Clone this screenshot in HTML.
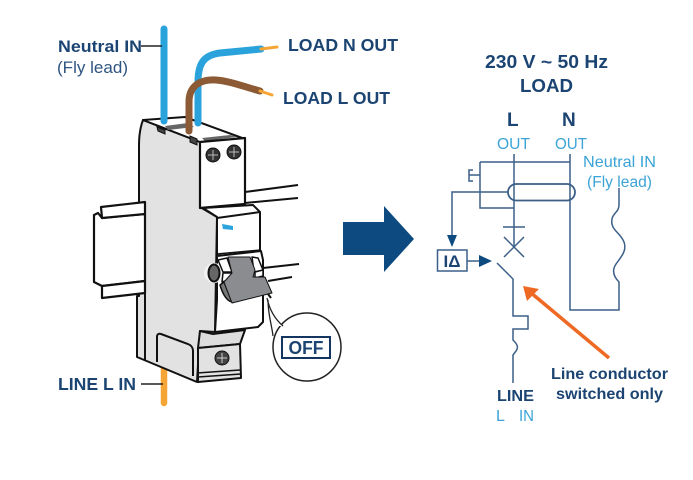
<!DOCTYPE html>
<html><head><meta charset="utf-8"><style>
html,body{margin:0;padding:0;background:#fff}
svg{display:block}
text{font-family:"Liberation Sans",sans-serif}
.b{font-weight:bold;fill:#1b4472}
.r{fill:#2f5480}
.c{fill:#3ba3d6}
</style></head><body>
<svg width="693" height="480" viewBox="0 0 693 480" xmlns="http://www.w3.org/2000/svg">
<rect width="693" height="480" fill="#fff"/>
<!-- rail right -->
<g fill="none" stroke="#111" stroke-width="2">
<path d="M245 192L298 185M245 203L298 198M263 268L299 264M268 281L292 277"/>
</g>
<!-- lower wire -->
<path d="M164 366V403" stroke="#f5a535" stroke-width="6.500" stroke-linecap="round"/>
<!-- body side -->
<path d="M143 120C140 128 139 135 139 145V296H137V357L197 382L200 331L215 332L217 217L200 207V142Z" fill="#e1e2e1" stroke="#111" stroke-width="2" stroke-linejoin="round"/>
<path d="M145 290V360" stroke="#111" stroke-width="2" fill="none"/>
<!-- rail left, in front of body -->
<path d="M94 215L98 213L102 218L145 214V281L102 286L94 282Z" fill="#fff" stroke="#111" stroke-width="2.200" stroke-linejoin="round"/>
<path d="M101 207L145 202V214L102 218Z" fill="#fff" stroke="#111" stroke-width="2.200" stroke-linejoin="round"/>
<path d="M102 286L145 281V293L102 298Z" fill="#fff" stroke="#111" stroke-width="2.200" stroke-linejoin="round"/>
<!-- top face -->
<path d="M143 120L185 117L245 139L200 142Z" fill="#fff" stroke="#111" stroke-width="2" stroke-linejoin="round"/>
<path d="M165 126L188 123L194 127L168 130Z" fill="#666"/>
<path d="M202 138L230 135L237 137L205 141Z" fill="#666"/>
<path d="M157 127L165 130V134L158 131Z" fill="#444" stroke="#111"/>
<path d="M190 136L197 139V145L190 142Z" fill="#444" stroke="#111"/>
<!-- front top -->
<path d="M200 142L245 138V204L200 208Z" fill="#fff" stroke="#111" stroke-width="2.200" stroke-linejoin="round"/>
<g fill="#333" stroke="#111">
<circle cx="213" cy="155" r="7"/><circle cx="234" cy="152" r="7"/>
</g>
<path d="M208 155H218M213 150V160M229 152H239M234 147V157" stroke="#bbb" stroke-width="1"/>
<!-- mid front -->
<path d="M203 208L253 205L260 212V252L217 256V217Z" fill="#fff" stroke="#111" stroke-width="2" stroke-linejoin="round"/>
<path d="M217 218L260 212" stroke="#111" stroke-width="2"/>
<path d="M222 224L233 226V230L223 229Z" fill="#2aa3dc"/>
<!-- lower front -->
<path d="M217 256L261 251L263 260V322L258 327L215 332L217 300Z" fill="#fff" stroke="#111" stroke-width="2" stroke-linejoin="round"/>
<path d="M217 254L261 250" stroke="#111" stroke-width="1.500"/>
<!-- bottom block -->
<path d="M200 331L213 334L245 330L240 344L198 348Z" fill="#dcdddc" stroke="#111" stroke-width="2" stroke-linejoin="round"/>
<path d="M198 348L240 344L241 378L198 382Z" fill="#e1e2e1" stroke="#111" stroke-width="2" stroke-linejoin="round"/>
<path d="M197 373L240 370M198 377L241 374" stroke="#111" stroke-width="1.500"/>
<circle cx="222" cy="358" r="7" fill="#444" stroke="#111"/>
<path d="M217 358H227M222 353V363" stroke="#ccc"/>
<!-- foot -->
<path d="M157 362V337Q157 333 161 334L188 344Q193 346 193 351V376" fill="none" stroke="#111" stroke-width="2"/>
<!-- toggle -->
<circle cx="214" cy="273" r="10" fill="#f1f1f1"/>
<ellipse cx="214" cy="273" rx="5.500" ry="8.500" fill="#666" stroke="#111" stroke-width="2"/>
<path d="M218 260L227 258L232 272H223ZM223 273H232V279L222 282Z" fill="#fff" stroke="#111" stroke-width="1.500" stroke-linejoin="round"/>
<path d="M252 257L258 258L263 270L254 272ZM255 272L263 270V276L255 278Z" fill="#fff" stroke="#111" stroke-width="1.500" stroke-linejoin="round"/>
<path d="M220 285L224 282L232 302C226 301 222 292 220 285Z" fill="#777" stroke="#111" stroke-width="1.500" stroke-linejoin="round"/>
<path d="M228 257H250L255 270L253 277H265L272 293L232 303L224 282L232 273Z" fill="#8b8c8f" stroke="#111" stroke-width="1" stroke-linejoin="round"/>
<path d="M268 294L271 298" stroke="#111" stroke-width="2"/>
<!-- wires -->
<path d="M164 29V121" stroke="#2aa3dc" stroke-width="7" stroke-linecap="round" fill="none"/>
<path d="M198 123V82C198 62 205 55 220 53L261 49" stroke="#2aa3dc" stroke-width="7" stroke-linecap="round" fill="none"/>
<path d="M261 49L277 47" stroke="#f5a535" stroke-width="3" stroke-linecap="round"/>
<path d="M189 131V102C189 86 200 79 216 80C230 81 245 87 260 91" stroke="#8c5a34" stroke-width="7" stroke-linecap="round" fill="none"/>
<path d="M260 91L272 95" stroke="#f5a535" stroke-width="3" stroke-linecap="round"/>
<path d="M141 46H162M141 384H163" stroke="#222" stroke-width="1.500"/>
<!-- OFF callout -->
<circle cx="307" cy="347" r="34" fill="#fff" stroke="#222" stroke-width="1.500"/>
<path d="M268 298C270 312 276 322 283 326L270 326Z" fill="#fff"/>
<path d="M267 298C270 312 276 320 283 326M268 300C268 315 272 326 273 336" fill="none" stroke="#222" stroke-width="1.300"/>
<rect x="282" y="337" width="48" height="21" fill="#fff" stroke="#14355f" stroke-width="2"/>
<text x="306" y="354" text-anchor="middle" class="b" font-size="18.500" textLength="35" lengthAdjust="spacingAndGlyphs">OFF</text>
<!-- big arrow -->
<path d="M343 222H384V206L414 239L384 272V255H343Z" fill="#0d4a80"/>
<!-- left labels -->
<text x="58" y="52" class="b" font-size="17" textLength="84" lengthAdjust="spacingAndGlyphs">Neutral IN</text>
<text x="57" y="73" class="r" font-size="17" textLength="71" lengthAdjust="spacingAndGlyphs">(Fly lead)</text>
<text x="288" y="51" class="b" font-size="17.500" textLength="110" lengthAdjust="spacingAndGlyphs">LOAD N OUT</text>
<text x="283" y="104" class="b" font-size="17.500" textLength="107" lengthAdjust="spacingAndGlyphs">LOAD L OUT</text>
<text x="58" y="390" class="b" font-size="17.500" textLength="78" lengthAdjust="spacingAndGlyphs">LINE L IN</text>
<!-- schematic -->
<g fill="none" stroke="#3c5f88" stroke-width="1.500">
<path d="M514 154V247"/>
<path d="M570 154V310H619V282C613 276 612 270 616 264C622 256 627 250 624 242C620 232 610 230 612 219C613 213 619 212 619 205V188"/>
<path d="M480 162H570M480 162V172M480 181V208H514"/>
<path d="M473 170H469V181H473M469 175H480M480 172V181"/>
<rect x="508" y="184" width="67" height="16.500" rx="8.250" stroke-width="1.800"/>
<path d="M503 227H525M504 237L524 257M524 237L504 257"/>
<path d="M497 263L513 279V316H528V329H513V340C517 344 519 347 516 351L513 355V383"/>
<path d="M508 192H452V236"/>
<path d="M467 261H482"/>
</g>
<rect x="437.500" y="250" width="29.500" height="21" fill="#fff" stroke="#3c5f88" stroke-width="1.500"/>
<text x="452" y="267" text-anchor="middle" class="b" font-size="17">IΔ</text>
<path d="M447 235H457L452 247ZM479 255L492 261L479 267Z" fill="#0d4a80"/>
<path d="M609 358L530 292" stroke="#ee6a24" stroke-width="3.500"/>
<path d="M523 286L539 289L527 301Z" fill="#ee6a24"/>
<!-- right labels -->
<text x="485" y="68" class="b" font-size="18.500" textLength="123" lengthAdjust="spacingAndGlyphs">230 V ~ 50 Hz</text>
<text x="520" y="92" class="b" font-size="18.500" textLength="53" lengthAdjust="spacingAndGlyphs">LOAD</text>
<text x="507" y="126" class="b" font-size="19">L</text>
<text x="562" y="126" class="b" font-size="19">N</text>
<text x="497" y="149" class="c" font-size="15.500" textLength="33" lengthAdjust="spacingAndGlyphs">OUT</text>
<text x="555" y="149" class="c" font-size="15.500" textLength="32" lengthAdjust="spacingAndGlyphs">OUT</text>
<text x="583" y="167" class="c" font-size="16" textLength="73" lengthAdjust="spacingAndGlyphs">Neutral IN</text>
<text x="587" y="187" class="c" font-size="15.500" textLength="65" lengthAdjust="spacingAndGlyphs">(Fly lead)</text>
<text x="497" y="401" class="b" font-size="16" textLength="37" lengthAdjust="spacingAndGlyphs">LINE</text>
<text x="496" y="421" class="c" font-size="16">L</text>
<text x="519" y="421" class="c" font-size="16" textLength="15" lengthAdjust="spacingAndGlyphs">IN</text>
<text x="551" y="379" class="b" font-size="16" textLength="117" lengthAdjust="spacingAndGlyphs">Line conductor</text>
<text x="556" y="399" class="b" font-size="16" textLength="107" lengthAdjust="spacingAndGlyphs">switched only</text>
</svg>
</body></html>
